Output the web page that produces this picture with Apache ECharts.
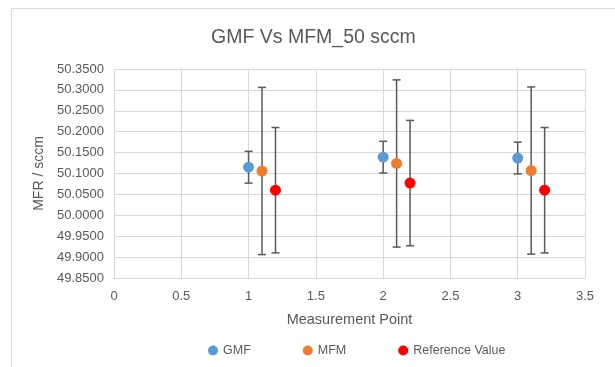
<!DOCTYPE html>
<html><head><meta charset="utf-8">
<script src="https://cdn.jsdelivr.net/npm/echarts@6/dist/echarts.min.js"></script>
<style>html,body{margin:0;padding:0;background:#fff}#c{width:615px;height:367px}</style>
</head><body><div id="c"></div>
<script>
var xPoints = [1, 2, 3];
var xOffsets = [0, 0.1, 0.2];
var seriesNames = ['GMF', 'MFM', 'Reference Value'];
var gmfValues = [50.115, 50.139, 50.137];
var mfmValues = [50.106, 50.124, 50.107];
var refValues = [50.060, 50.077, 50.060];
var gmfErrors = [0.038, 0.038, 0.038];
var mfmErrors = [0.200, 0.200, 0.200];
var refErrors = [0.150, 0.150, 0.150];
var colors = ['#5b9bd5', '#ed7d31', '#ff0000'];

var allValues = [gmfValues, mfmValues, refValues];
var allErrors = [gmfErrors, mfmErrors, refErrors];
var font = 'Liberation Sans, Arial, sans-serif';
var txt = '#595959';

var series = [];
allValues.forEach(function (vals, s) {
  var errData = vals.map(function (v, i) {
    return [xPoints[i] + xOffsets[s], v - allErrors[s][i], v + allErrors[s][i]];
  });
  series.push({
    type: 'custom',
    name: seriesNames[s] + ' err',
    silent: true,
    z: 2,
    data: errData,
    encode: {x: 0, y: [1, 2]},
    renderItem: function (params, api) {
      var x = api.value(0);
      var lo = api.coord([x, api.value(1)]);
      var hi = api.coord([x, api.value(2)]);
      var hw = 4;
      var st = {stroke: '#595959', lineWidth: 1.5};
      return {type: 'group', children: [
        {type: 'line', shape: {x1: lo[0], y1: lo[1], x2: hi[0], y2: hi[1]}, style: st},
        {type: 'line', shape: {x1: lo[0] - hw, y1: lo[1], x2: lo[0] + hw, y2: lo[1]}, style: st},
        {type: 'line', shape: {x1: hi[0] - hw, y1: hi[1], x2: hi[0] + hw, y2: hi[1]}, style: st}
      ]};
    }
  });
  series.push({
    type: 'scatter',
    name: seriesNames[s],
    symbol: 'circle',
    symbolSize: 11,
    z: 3,
    itemStyle: {color: colors[s], opacity: 1},
    data: vals.map(function (v, i) { return [xPoints[i] + xOffsets[s], v]; })
  });
});

var chart = echarts.init(document.getElementById('c'), null, {renderer: 'canvas'});
chart.setOption({
  animation: false,
  backgroundColor: '#fff',
  graphic: [{type: 'rect', shape: {x: 11.5, y: 8.5, width: 700, height: 500}, style: {fill: 'none', stroke: '#d9d9d9', lineWidth: 1}, silent: true}],
  title: {text: 'GMF Vs MFM_50 sccm', left: 206, top: 23, textStyle: {fontFamily: font, fontSize: 19.5, fontWeight: 'normal', color: txt}},
  legend: {
    data: seriesNames.map(function (n) { return {name: n, icon: 'circle'}; }),
    bottom: 5, left: 203, itemWidth: 10, itemHeight: 10, itemGap: 52,
    textStyle: {fontFamily: font, fontSize: 12.5, color: txt}
  },
  grid: {left: 114, right: 30, top: 69, bottom: 89},
  xAxis: {
    type: 'value', min: 0, max: 3.5, interval: 0.5,
    name: 'Measurement Point', nameLocation: 'middle', nameGap: 34,
    nameTextStyle: {fontFamily: font, fontSize: 14.5, color: txt},
    axisLine: {show: true, lineStyle: {color: '#d9d9d9'}},
    axisTick: {show: false},
    axisLabel: {fontFamily: font, fontSize: 13, color: txt, margin: 12},
    splitLine: {show: true, lineStyle: {color: '#d9d9d9', width: 1}}
  },
  yAxis: {
    type: 'value', min: 49.85, max: 50.35, interval: 0.05,
    name: 'MFR / sccm', nameLocation: 'middle', nameGap: 66,
    nameTextStyle: {fontFamily: font, fontSize: 14, color: txt},
    axisLine: {show: true, lineStyle: {color: '#d9d9d9'}},
    axisTick: {show: false},
    axisLabel: {fontFamily: font, fontSize: 13, color: txt, margin: 10, formatter: function (v) { return v.toFixed(4); }},
    splitLine: {show: true, lineStyle: {color: '#d9d9d9', width: 1}}
  },
  series: series
});
</script></body></html>
